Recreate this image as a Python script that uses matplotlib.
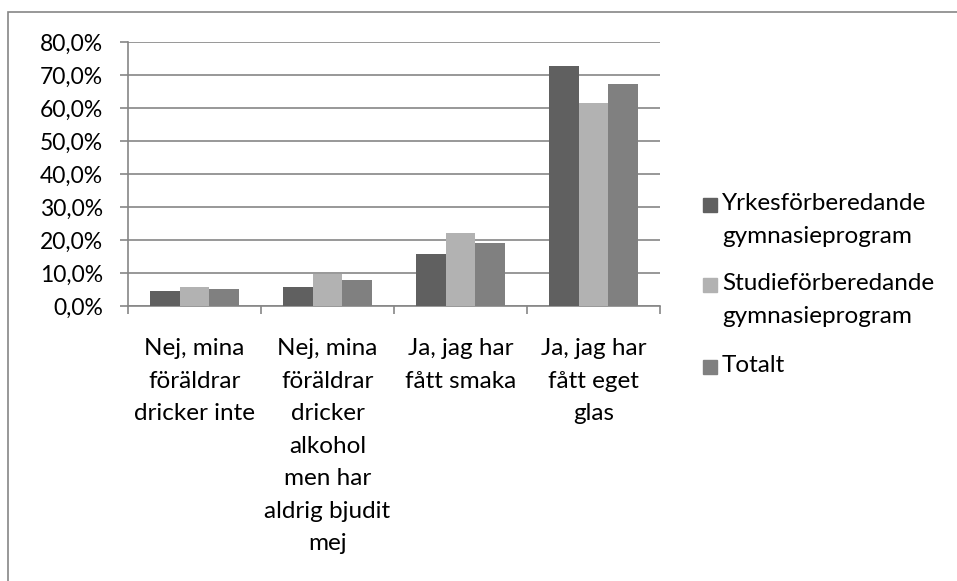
import numpy as np
import matplotlib.pyplot as plt
from matplotlib.patches import Rectangle
from matplotlib.ticker import FuncFormatter

plt.rcParams['font.family'] = ['Lato', 'DejaVu Sans']

categories = [
    'Nej, mina\nföräldrar\ndricker inte',
    'Nej, mina\nföräldrar\ndricker\nalkohol\nmen har\naldrig bjudit\nmej',
    'Ja, jag har\nfått smaka',
    'Ja, jag har\nfått eget\nglas',
]
series_names = [
    'Yrkesförberedande\ngymnasieprogram',
    'Studieförberedande\ngymnasieprogram',
    'Totalt',
]
yrkes = [4.6, 5.9, 15.8, 72.7]
studie = [5.9, 9.7, 22.0, 61.6]
totalt = [5.2, 7.9, 19.0, 67.2]
colors = ['#606060', '#b2b2b2', '#808080']

W, H = 957, 581
fig = plt.figure(figsize=(W / 100, H / 100), dpi=100)
ax = fig.add_axes([128 / W, (H - 306) / H, 532 / W, 264 / H])

# outer chart frame (clipped at right/bottom like the original)
fig.patches.append(Rectangle((8 / W, -0.1), 1.2, 1.1 - 12 / H, transform=fig.transFigure,
                             fill=False, ec='#868686', lw=1.2))

x = np.arange(len(categories))
bw = 1 / 4.5
for i, vals in enumerate([yrkes, studie, totalt]):
    ax.bar(x + (i - 1) * bw, vals, width=bw, color=colors[i], zorder=3)

grid_c = '#868686'
ax.set_xlim(-0.5, 3.5)
ax.set_ylim(0, 80)
ax.set_yticks(np.arange(0, 81, 10))
ax.yaxis.set_major_formatter(FuncFormatter(lambda v, p: f'{v:.1f}%'.replace('.', ',')))
ax.grid(axis='y', color=grid_c, lw=1.2, zorder=0)

ax.set_xticks(np.arange(-0.5, 3.6, 1))
ax.set_xticklabels([])
ax.set_xticks(x, minor=True)
ax.set_xticklabels(categories, minor=True, fontsize=17.5, linespacing=1.68, va='top')
ax.tick_params(axis='x', which='minor', length=0, pad=23)
ax.tick_params(axis='x', which='major', length=6, color=grid_c, width=1.2)
ax.tick_params(axis='y', length=6, color=grid_c, width=1.2, labelsize=16.5, pad=12)

for s in ['top', 'right']:
    ax.spines[s].set_visible(False)
for s in ['left', 'bottom']:
    ax.spines[s].set_color(grid_c)
    ax.spines[s].set_linewidth(1.2)

# legend drawn by hand: square next to the first text line of each entry
leg_y = [205, 285, 367]  # first-line centres in pixels from top
for name, c, yy in zip(series_names, colors, leg_y):
    fig.patches.append(Rectangle((703 / W, 1 - (yy + 7) / H), 14 / W, 14 / H,
                                 transform=fig.transFigure, color=c))
    fig.text(722 / W, 1 - (yy - 12) / H, name, fontsize=17.5, linespacing=1.68,
             va='top', ha='left')

fig.savefig('out.png', dpi=100)
